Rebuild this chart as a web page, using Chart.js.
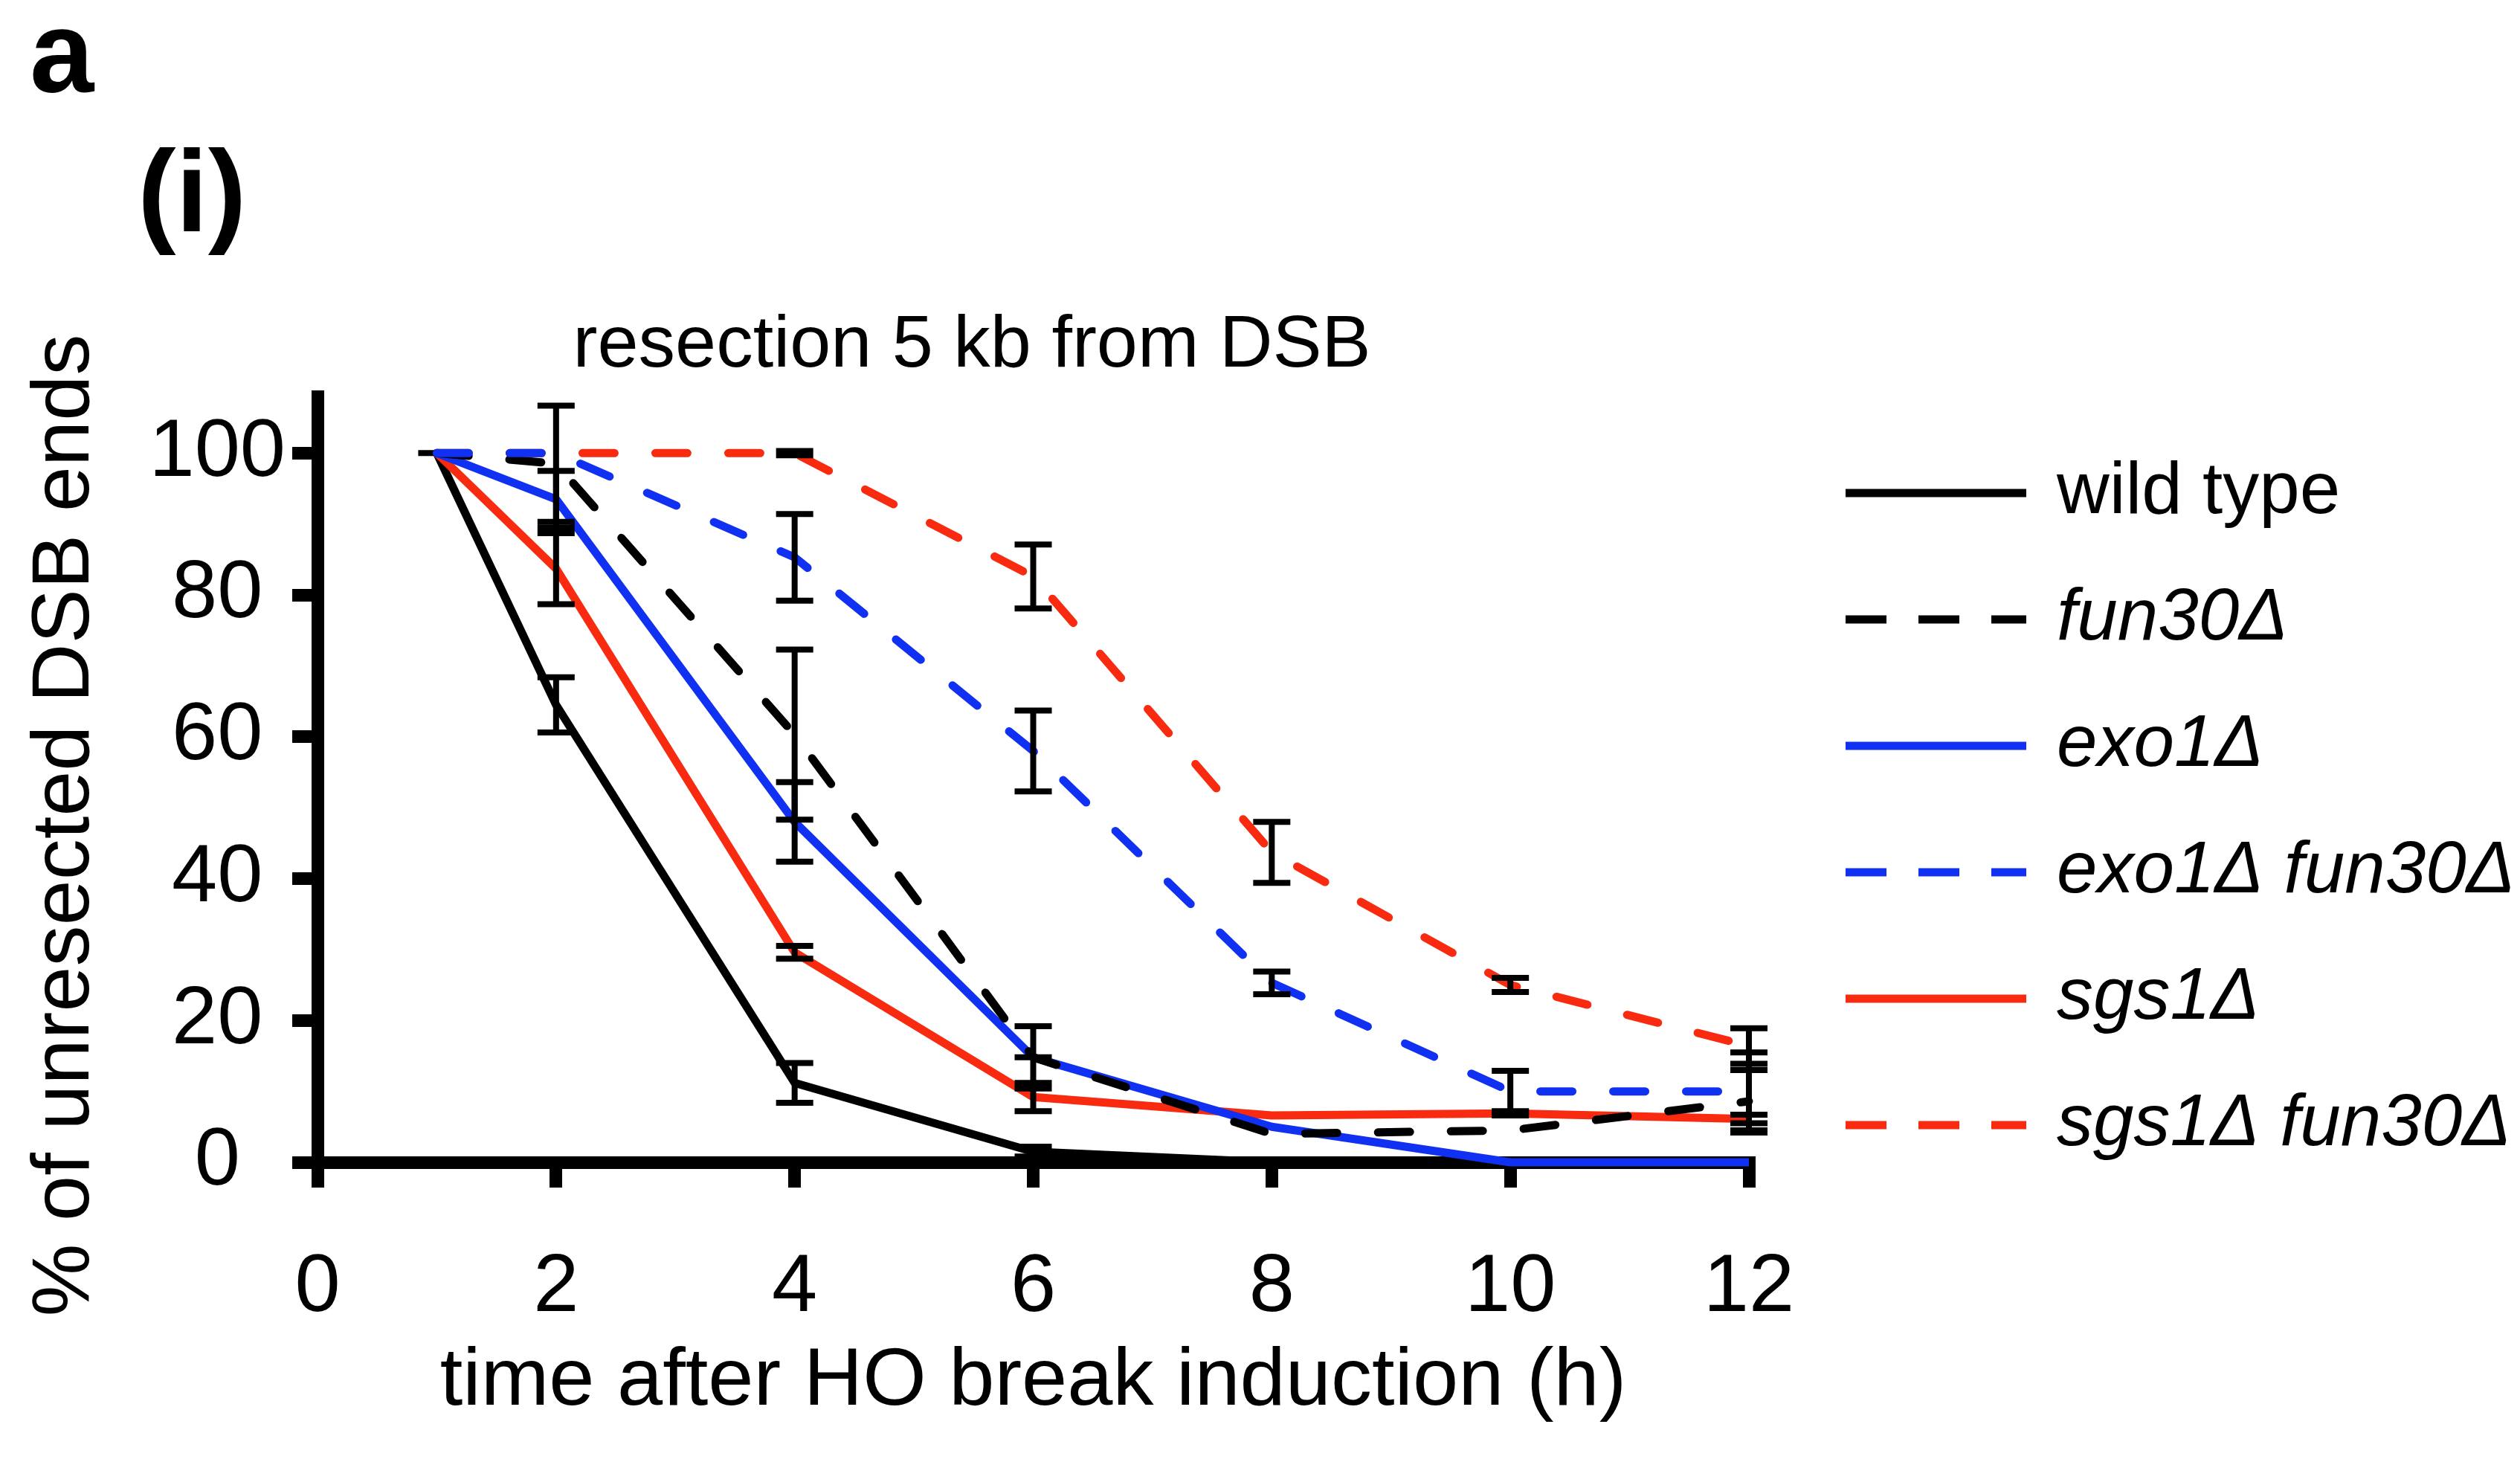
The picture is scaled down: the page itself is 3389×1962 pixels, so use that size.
<!DOCTYPE html>
<html>
<head>
<meta charset="utf-8">
<script src="https://cdn.jsdelivr.net/npm/chart.js@4.4.1/dist/chart.umd.min.js"></script>
<style>
html,body{margin:0;padding:0;background:#ffffff;}
canvas{display:block;}
</style>
</head>
<body>
<canvas id="chart" width="3389" height="1962" style="width:3389px;height:1962px"></canvas>
<script>
// ---------------- data ----------------
const times = [1, 2, 4, 6, 8, 10, 12];
const xTickValues = [0, 2, 4, 6, 8, 10, 12];
const yTickValues = [0, 20, 40, 60, 80, 100];

const seriesNames = ['wild type', 'fun30Δ', 'exo1Δ', 'exo1Δ fun30Δ', 'sgs1Δ', 'sgs1Δ fun30Δ'];

const wildType     = [100, 64.5, 11.2, 1.5, 0, 0, 0];
const fun30        = [100, 98.5, 60.3, 14.8, 4.0, 4.5, 8.6];
const exo1         = [100, 93.5, 48.0, 14.8, 5.0, 0, 0];
const exo1fun30    = [100, 100, 85.3, 58.0, 25.3, 10.0, 10.0];
const sgs1         = [100, 83.7, 29.6, 9.2, 6.6, 6.9, 6.1];
const sgs1fun30    = [100, 100, 100, 82.6, 43.7, 25.0, 16.4];

// symmetric error (null = no error bar shown)
const wildTypeErr  = [0, 3.9, 2.8, 0.7, null, null, null];
const fun30Err     = [null, 8.2, 12.0, 4.4, null, null, 4.4];
const exo1Err      = [null, 4.0, 5.6, 0, null, null, null];
const exo1fun30Err = [null, null, 6.1, 5.7, 1.6, 2.9, 5.5];
const sgs1Err      = [null, 5.0, 0.9, 2.0, null, 0.3, 0.6];
const sgs1fun30Err = [null, null, 0.3, 4.5, 4.3, 1.0, 2.5];

const panelLetter = 'a';
const panelSub = '(i)';
const chartTitle = 'resection 5 kb from DSB';
const xTitle = 'time after HO break induction (h)';
const yTitle = '% of unresected DSB ends';

// ---------------- styles ----------------
const FONT = "'Liberation Sans', Arial, Helvetica, sans-serif";
const BLACK = '#000000';
const BLUE = '#1030F2';
const RED = '#F82A10';

const seriesValues = [wildType, fun30, exo1, exo1fun30, sgs1, sgs1fun30];
const seriesErrors = [wildTypeErr, fun30Err, exo1Err, exo1fun30Err, sgs1Err, sgs1fun30Err];
const seriesColors = [BLACK, BLACK, BLUE, BLUE, RED, RED];
const seriesDashed = [false, true, false, true, false, true];
const seriesItalic = [false, true, true, true, true, true];
const drawOrder    = [4, 1, 2, 0, 3, 5];

const datasets = seriesNames.map((name, i) => ({
  label: name,
  data: times.map((t, j) => ({x: t, y: seriesValues[i][j]})),
  errors: seriesErrors[i],
  borderColor: seriesColors[i],
  backgroundColor: seriesColors[i],
  borderWidth: 11,
  borderDash: seriesDashed[i] ? [43, 55] : [],
  borderCapStyle: seriesDashed[i] ? 'round' : 'butt',
  borderJoinStyle: 'round',
  pointRadius: 0,
  pointHoverRadius: 0,
  tension: 0,
  fill: false,
  clip: false,
  order: drawOrder[i]
}));

// ---------------- plugins ----------------
const errorBars = {
  id: 'errorBars',
  afterDatasetDraw(chart, args) {
    const ds = chart.data.datasets[args.index];
    const errs = ds.errors;
    if (!errs) return;
    const xs = chart.scales.x, ys = chart.scales.y;
    const ctx = chart.ctx;
    ctx.save();
    ctx.strokeStyle = BLACK;
    ctx.lineWidth = 8;
    ctx.lineCap = 'butt';
    ctx.setLineDash([]);
    ds.data.forEach((p, j) => {
      const e = errs[j];
      if (e === null || e === undefined) return;
      const x = xs.getPixelForValue(p.x);
      const yt = ys.getPixelForValue(p.y + e);
      const yb = ys.getPixelForValue(p.y - e);
      const hw = 25;
      ctx.beginPath();
      ctx.moveTo(x, yt); ctx.lineTo(x, yb);
      ctx.moveTo(x - hw, yt); ctx.lineTo(x + hw, yt);
      ctx.moveTo(x - hw, yb); ctx.lineTo(x + hw, yb);
      ctx.stroke();
    });
    ctx.restore();
  }
};

const annotations = {
  id: 'annotations',
  afterDraw(chart) {
    const ctx = chart.ctx;
    ctx.save();
    ctx.fillStyle = BLACK;
    ctx.textAlign = 'left';
    ctx.textBaseline = 'alphabetic';
    ctx.font = `bold 155px ${FONT}`;
    ctx.fillText(panelLetter, 40, 123);
    ctx.fillText(panelSub, 185, 311);

    ctx.font = `99px ${FONT}`;
    ctx.textAlign = 'center';
    ctx.fillText(chartTitle, 1307, 493);

    // y axis title
    ctx.save();
    ctx.translate(89, 1110);
    ctx.rotate(-Math.PI / 2);
    ctx.font = `110px ${FONT}`;
    ctx.textAlign = 'center';
    ctx.textBaseline = 'middle';
    ctx.fillText(yTitle, 0, 0);
    ctx.restore();

    // legend
    const lx0 = 2482, lx1 = 2725, tx = 2766, ly0 = 663, lstep = 170;
    chart.data.datasets.forEach((ds, i) => {
      const y = ly0 + i * lstep;
      ctx.save();
      ctx.strokeStyle = ds.borderColor;
      ctx.lineWidth = 11;
      ctx.lineCap = 'butt';
      ctx.setLineDash(seriesDashed[i] ? [55, 43] : []);
      ctx.beginPath();
      ctx.moveTo(lx0, y); ctx.lineTo(lx1, y);
      ctx.stroke();
      ctx.restore();
      ctx.font = `${seriesItalic[i] ? 'italic ' : ''}98px ${FONT}`;
      ctx.textAlign = 'left';
      ctx.textBaseline = 'middle';
      ctx.fillStyle = BLACK;
      ctx.fillText(ds.label, tx, y);
    });
    ctx.restore();
  }
};

// ---------------- chart ----------------
new Chart(document.getElementById('chart'), {
  type: 'line',
  data: { datasets },
  options: {
    responsive: false,
    devicePixelRatio: 1,
    animation: false,
    events: [],
    layout: { padding: { left: 0, right: 1037, top: 533, bottom: 0 } },
    plugins: {
      legend: { display: false },
      tooltip: { enabled: false },
      title: { display: false }
    },
    scales: {
      x: {
        type: 'linear',
        min: 0, max: 12,
        afterBuildTicks: s => { s.ticks = xTickValues.map(v => ({value: v})); },
        afterFit: s => { s.height = 399; },
        ticks: {
          autoSkip: false, maxRotation: 0, padding: 70, color: BLACK,
          font: { family: FONT, size: 110 }
        },
        grid: {
          display: true, drawOnChartArea: false, drawTicks: true,
          tickLength: 34, tickWidth: 17, tickColor: BLACK, color: BLACK, lineWidth: 17
        },
        border: { display: true, color: BLACK, width: 17 },
        title: {
          display: true, text: xTitle, color: BLACK,
          font: { family: FONT, size: 110 },
          padding: { top: 0, bottom: 37 }
        }
      },
      y: {
        type: 'linear',
        min: 0, max: 108,
        afterBuildTicks: s => { s.ticks = yTickValues.map(v => ({value: v})); },
        afterFit: s => { s.width = 427; },
        ticks: {
          includeBounds: false, crossAlign: 'center', padding: 9, color: BLACK,
          font: { family: FONT, size: 110 }
        },
        grid: {
          display: true, drawOnChartArea: false, drawTicks: true,
          tickLength: 34, tickWidth: 17, tickColor: BLACK, color: BLACK, lineWidth: 17
        },
        border: { display: true, color: BLACK, width: 17 },
        title: { display: false }
      }
    }
  },
  plugins: [errorBars, annotations]
});
</script>
</body>
</html>
